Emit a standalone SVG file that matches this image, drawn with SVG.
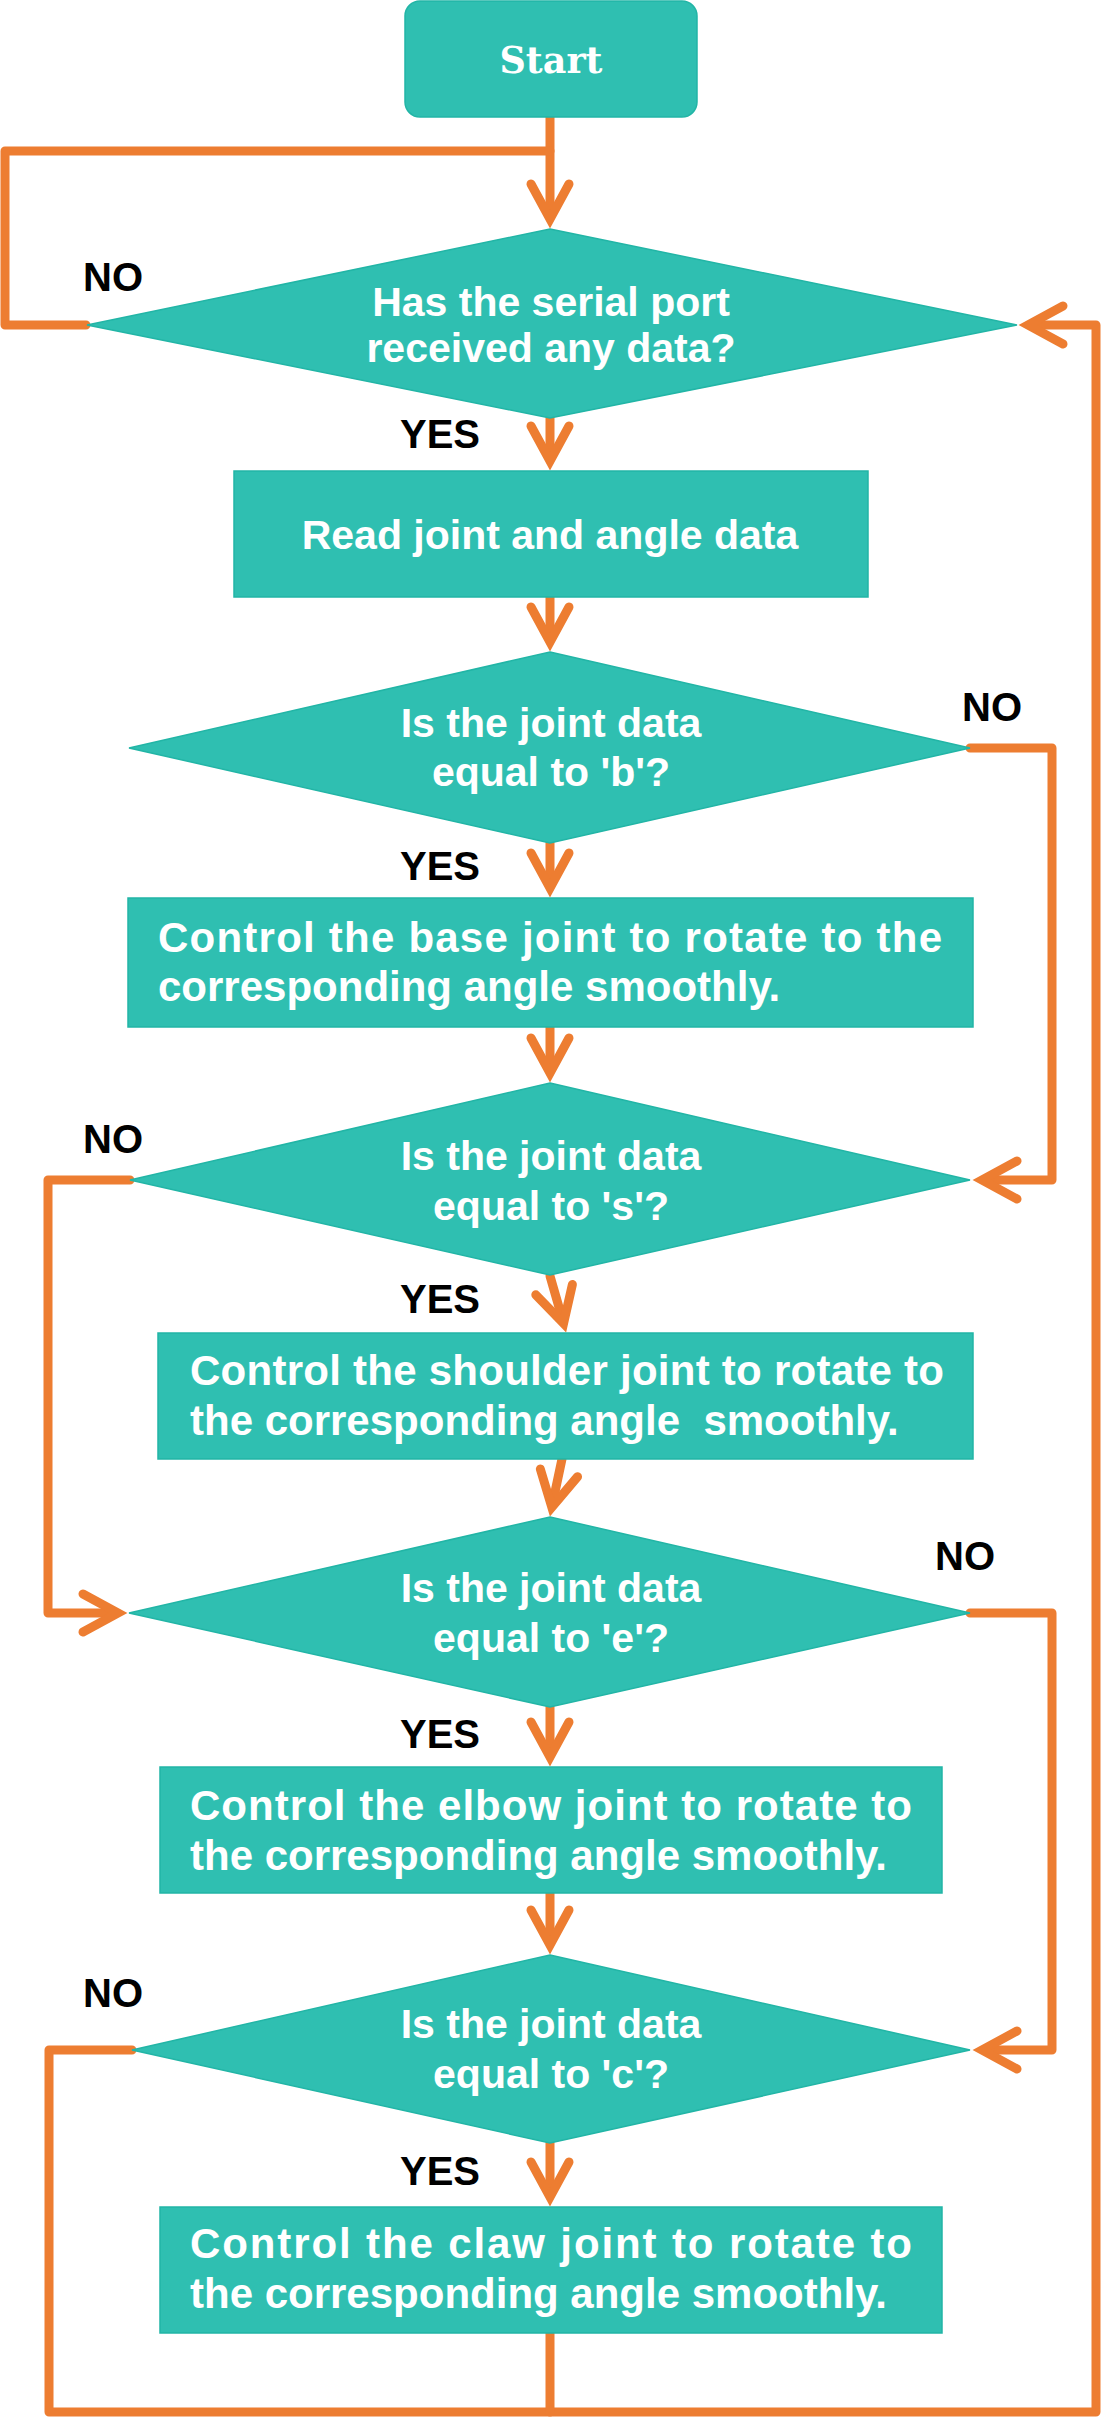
<svg xmlns="http://www.w3.org/2000/svg" width="1102" height="2418" viewBox="0 0 1102 2418">
<style>
.node{fill:#2FBFB1;stroke:#22B5A6;stroke-width:1.5}
.conn{fill:none;stroke:#ED7D31;stroke-width:9;stroke-linecap:round;stroke-linejoin:round}
.arr{fill:none;stroke:#ED7D31;stroke-width:9;stroke-linecap:round;stroke-linejoin:miter;stroke-miterlimit:6}
.t{font-family:"Liberation Sans",Arial,sans-serif;font-weight:bold;fill:#FFFFFF}
.dt{font-size:41px;text-anchor:middle}
.bt{font-size:42px}
.lbl{font-family:"Liberation Sans",Arial,sans-serif;font-weight:bold;font-size:40px;fill:#000000}
.st{font-family:"DejaVu Serif",serif;font-size:38px;font-weight:bold;fill:#FFFFFF;text-anchor:middle}
</style>
<defs>
<path id="ah" class="arr" d="M-44,-19 L-9,0 L-44,19"/>
</defs>
<rect width="1102" height="2418" fill="#FFFFFF"/>

<g id="connectors">
<path class="conn" d="M550,117 V216"/>
<path class="conn" d="M86,325 H5 V151 H550"/>
<path class="conn" d="M550,418 V458"/>
<path class="conn" d="M550,597 V639"/>
<path class="conn" d="M550,843 V885"/>
<path class="conn" d="M970,748 H1052 V1180 H985"/>
<path class="conn" d="M550,1027 V1070"/>
<path class="conn" d="M130,1180 H48 V1613 H115"/>
<path class="conn" d="M550,1276 L562.8,1320.5"/>
<path class="conn" d="M562,1459 L552.4,1504.3"/>
<path class="conn" d="M970,1613 H1052 V2050 H985"/>
<path class="conn" d="M550,1707 V1754"/>
<path class="conn" d="M550,1893 V1942"/>
<path class="conn" d="M132,2050 H49 V2412 H1096 V325 H1031"/>
<path class="conn" d="M550,2143 V2194"/>
<path class="conn" d="M550,2333 V2412"/>
<use href="#ah" transform="translate(550,228) rotate(90)"/>
<use href="#ah" transform="translate(550,470) rotate(90)"/>
<use href="#ah" transform="translate(550,651) rotate(90)"/>
<use href="#ah" transform="translate(550,897) rotate(90)"/>
<use href="#ah" transform="translate(973,1180) rotate(180)"/>
<use href="#ah" transform="translate(550,1082) rotate(90)"/>
<use href="#ah" transform="translate(127,1613)"/>
<use href="#ah" transform="translate(566,1332) rotate(74.3)"/>
<use href="#ah" transform="translate(550,1516) rotate(101.7)"/>
<use href="#ah" transform="translate(973,2050) rotate(180)"/>
<use href="#ah" transform="translate(550,1766) rotate(90)"/>
<use href="#ah" transform="translate(550,1954) rotate(90)"/>
<use href="#ah" transform="translate(1019,325) rotate(180)"/>
<use href="#ah" transform="translate(550,2206) rotate(90)"/>
<text class="lbl" x="83" y="291">NO</text>
<text class="lbl" x="400" y="448">YES</text>
<text class="lbl" x="962" y="721">NO</text>
<text class="lbl" x="400" y="880">YES</text>
<text class="lbl" x="83" y="1153">NO</text>
<text class="lbl" x="400" y="1313">YES</text>
<text class="lbl" x="935" y="1570">NO</text>
<text class="lbl" x="400" y="1748">YES</text>
<text class="lbl" x="83" y="2007">NO</text>
<text class="lbl" x="400" y="2185">YES</text>
</g>

<g id="start">
<rect class="node" x="405" y="1" width="292" height="116" rx="15"/>
<text class="st" x="551" y="73" textLength="103" lengthAdjust="spacingAndGlyphs">Start</text>
</g>

<g id="serial-check">
<polygon class="node" points="550,229 1017,325 550,418 87,325"/>
<text class="t dt" x="551" y="316">Has the serial port</text>
<text class="t dt" x="551" y="362">received any data?</text>
</g>

<g id="read-data">
<rect class="node" x="234" y="471" width="634" height="126"/>
<text class="t dt" x="550" y="549">Read joint and angle data</text>
</g>

<g id="check-b">
<polygon class="node" points="550,652 970,748 550,843 129,748"/>
<text class="t dt" x="551" y="737">Is the joint data</text>
<text class="t dt" x="551" y="786">equal to 'b'?</text>
</g>

<g id="base-joint">
<rect class="node" x="128" y="898" width="845" height="129"/>
<text class="t bt" x="158" y="952" textLength="784" lengthAdjust="spacing">Control the base joint to rotate to the</text>
<text class="t bt" x="158" y="1001">corresponding angle smoothly.</text>
</g>

<g id="check-s">
<polygon class="node" points="550,1083 970,1180 550,1275 130,1180"/>
<text class="t dt" x="551" y="1170">Is the joint data</text>
<text class="t dt" x="551" y="1220">equal to 's'?</text>
</g>

<g id="shoulder-joint">
<rect class="node" x="158" y="1333" width="815" height="126"/>
<text class="t bt" x="190" y="1385" textLength="754" lengthAdjust="spacing">Control the shoulder joint to rotate to</text>
<text class="t bt" x="190" y="1435" xml:space="preserve">the corresponding angle  smoothly.</text>
</g>

<g id="check-e">
<polygon class="node" points="550,1517 970,1613 550,1707 129,1613"/>
<text class="t dt" x="551" y="1602">Is the joint data</text>
<text class="t dt" x="551" y="1652">equal to 'e'?</text>
</g>

<g id="elbow-joint">
<rect class="node" x="160" y="1767" width="782" height="126"/>
<text class="t bt" x="190" y="1820" textLength="722" lengthAdjust="spacing">Control the elbow joint to rotate to</text>
<text class="t bt" x="190" y="1870">the corresponding angle smoothly.</text>
</g>

<g id="check-c">
<polygon class="node" points="550,1955 970,2050 550,2143 132,2050"/>
<text class="t dt" x="551" y="2038">Is the joint data</text>
<text class="t dt" x="551" y="2088">equal to 'c'?</text>
</g>

<g id="claw-joint">
<rect class="node" x="160" y="2207" width="782" height="126"/>
<text class="t bt" x="190" y="2258" textLength="722" lengthAdjust="spacing">Control the claw joint to rotate to</text>
<text class="t bt" x="190" y="2308">the corresponding angle smoothly.</text>
</g>
</svg>
